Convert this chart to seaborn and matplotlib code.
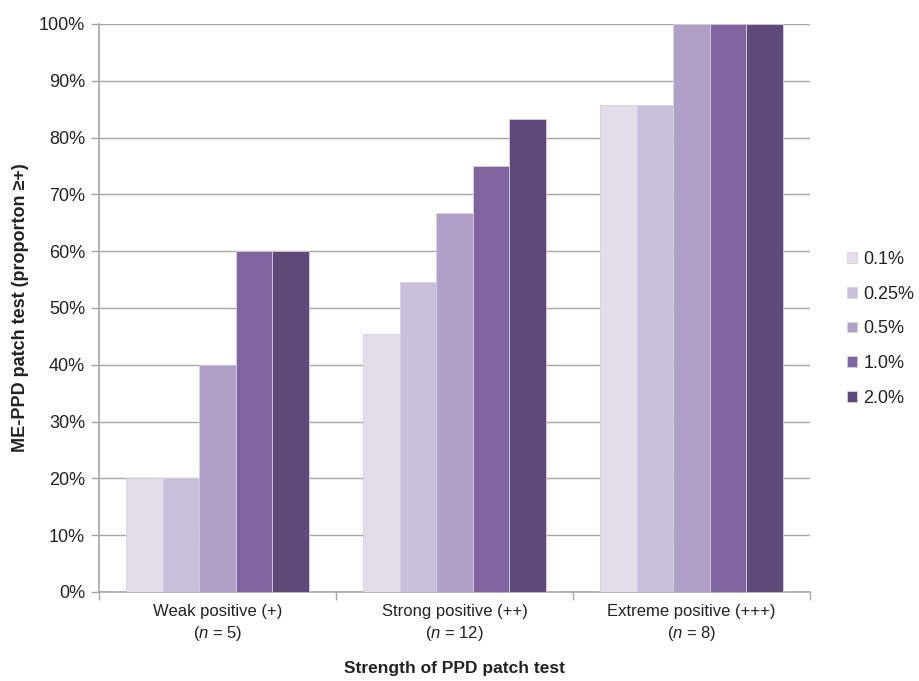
import pandas as pd
import numpy as np
import seaborn as sns
import matplotlib.pyplot as plt
from matplotlib.ticker import FixedLocator, PercentFormatter

# data
groupes = ['Weak positive (+)\n($n$ = 5)', 'Strong positive (++)\n($n$ = 12)',
           'Extreme positive (+++)\n($n$ = 8)']
concentrations = ['0.1%', '0.25%', '0.5%', '1.0%', '2.0%']
weak = [20.0, 20.0, 40.0, 60.0, 60.0]
strong = [45.5, 54.5, 66.7, 75.0, 83.3]
extreme = [85.7, 85.7, 100.0, 100.0, 100.0]

couleurs = ['#E3DDEA', '#C9BFDB', '#B0A0C8', '#7F64A0', '#5E4A7A']

rows = []
for g, vals in zip(groupes, [weak, strong, extreme]):
    for c, v in zip(concentrations, vals):
        rows.append({'groupe': g, 'conc': c, 'val': v})
df = pd.DataFrame(rows)

sns.set_style('white')
plt.rcParams['font.family'] = ['Liberation Sans', 'DejaVu Sans']
plt.rcParams['mathtext.fontset'] = 'custom'
plt.rcParams['mathtext.it'] = 'Liberation Sans:italic'

fig = plt.figure(figsize=(9.19, 6.81), dpi=100)
ax = fig.add_axes([0.1077, 0.1307, 0.7737, 0.8341])

sns.barplot(data=df, x='groupe', y='val', hue='conc', palette=couleurs,
            width=0.77, saturation=1, edgecolor='#D8D0E4', linewidth=0.6,
            ax=ax, zorder=3)

ax.set_ylim(0, 100)
ax.set_xlim(-0.5, 2.5)
ax.set_yticks(np.arange(0, 101, 10))
ax.yaxis.set_major_formatter(PercentFormatter(decimals=0))
ax.grid(axis='y', color='#A6A6A6', linewidth=1, zorder=0)
ax.set_axisbelow(True)

# ticks aux bords des groupes, labels au centre
ax.xaxis.set_major_locator(FixedLocator([-0.5, 0.5, 1.5, 2.5]))
ax.xaxis.set_major_formatter(plt.NullFormatter())
ax.xaxis.set_minor_locator(FixedLocator([0, 1, 2]))
ax.set_xticklabels(groupes, minor=True, fontsize=12, color='#222222', linespacing=1.35)
ax.tick_params(axis='x', which='major', length=6, color='#A6A6A6', width=1, direction='out', bottom=True)
ax.tick_params(axis='x', which='minor', length=0, pad=9)
ax.tick_params(axis='y', length=6, color='#A6A6A6', width=1, direction='out', left=True,
               labelsize=13, labelcolor='#222222', pad=4)

for s in ['top', 'right']:
    ax.spines[s].set_visible(False)
for s in ['left', 'bottom']:
    ax.spines[s].set_color('#A6A6A6')
    ax.spines[s].set_linewidth(1.2)

ax.set_xlabel('Strength of PPD patch test', fontsize=12.5, fontweight='bold',
              labelpad=13, color='#222222')
ax.set_ylabel('ME-PPD patch test (proporton ≥+)', fontsize=13, fontweight='bold',
              labelpad=7, color='#222222')

leg = ax.legend(loc='center left', bbox_to_anchor=(0.9217, 0.517),
                bbox_transform=fig.transFigure, frameon=False,
                fontsize=13, handlelength=0.55, handleheight=0.55, labelspacing=0.98,
                handletextpad=0.35, borderpad=0, borderaxespad=0)
for t in leg.get_texts():
    t.set_color('#222222')

plt.savefig('out.png', dpi=100)
